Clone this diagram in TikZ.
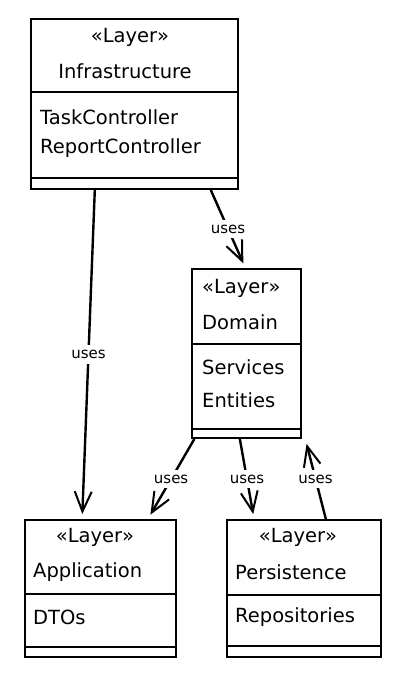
\documentclass[tikz,border=0pt]{standalone}
\usepackage{fontspec}
\setmainfont{DejaVu Sans}
\usetikzlibrary{calc,arrows.meta}

\begin{document}
\begin{tikzpicture}[x=1pt,y=-1pt,
    layer/.style={draw, line width=2pt, minimum width=#1, inner sep=0pt},
    txt/.style={font=\fontsize{19.5}{22}\selectfont, inner sep=0pt},
    lbl/.style={font=\fontsize{15}{17}\selectfont, fill=white, inner sep=5pt},
    uses/.style={line width=2.4pt, shorten >=5pt, -{Straight Barb[length=20pt,width=17pt,line width=2pt]}}]
    \useasboundingbox (0,0) rectangle (409,678);
    % the four layers
    \node[layer=207pt, minimum height=170pt] (infra) at (134.5,104) {};
    \node[layer=109pt, minimum height=169pt] (domain) at (246.5,353.5) {};
    \node[layer=151pt, minimum height=137pt] (app) at (100.5,588.5) {};
    \node[layer=154pt, minimum height=137pt] (pers) at (304,588.5) {};
    \foreach \b/\d/\e in {infra/74/12, domain/76/10, app/75/11, pers/76/12} {
      \draw[line width=1.2pt] ([yshift=-\d pt]\b.north west) -- ([yshift=-\d pt]\b.north east);
      \draw[line width=1.2pt] ([yshift=\e pt]\b.south west) -- ([yshift=\e pt]\b.south east);
    }
    \node[txt] (infraS) at (130,37) {«Layer»};
    \node[txt] (infraN) at (125,71) {Infrastructure};
    \node[txt, anchor=west] (infraA) at (40,117) {TaskController};
    \node[txt, anchor=west] (infraB) at (40,148) {ReportController};
    \node[txt, anchor=west] (domainS) at (202,288) {«Layer»};
    \node[txt, anchor=west] (domainN) at (202,322) {Domain};
    \node[txt, anchor=west] (domainA) at (202,367) {Services};
    \node[txt, anchor=west] (domainB) at (202,400) {Entities};
    \node[txt] (appS) at (95,537) {«Layer»};
    \node[txt, anchor=west] (appN) at (33,572) {Application};
    \node[txt, anchor=west] (appA) at (33,617) {DTOs};
    \node[txt] (persS) at (298,537) {«Layer»};
    \node[txt, anchor=west] (persN) at (235,572) {Persistence};
    \node[txt, anchor=west] (persA) at (235,617) {Repositories};
    % dependencies
    \draw[uses] ($(infra.south west)!.31!(infra.south east)$) -- node[lbl] {uses} ($(app.north west)!.38!(app.north east)$);
    \draw[uses] ($(infra.south west)!.865!(infra.south east)$) -- node[lbl] {uses} ($(domain.north west)!.49!(domain.north east)$);
    \draw[uses] ($(domain.south west)!.03!(domain.south east)$) -- node[lbl] {uses} ($(app.north west)!.81!(app.north east)$);
    \draw[uses] ($(domain.south west)!.44!(domain.south east)$) -- node[lbl] {uses} ($(pers.north west)!.18!(pers.north east)$);
    \draw[uses] ($(pers.north west)!.64!(pers.north east)$) -- node[lbl] {uses} ($(domain.south west)!1.03!(domain.south east)$);
\end{tikzpicture}
\end{document}
